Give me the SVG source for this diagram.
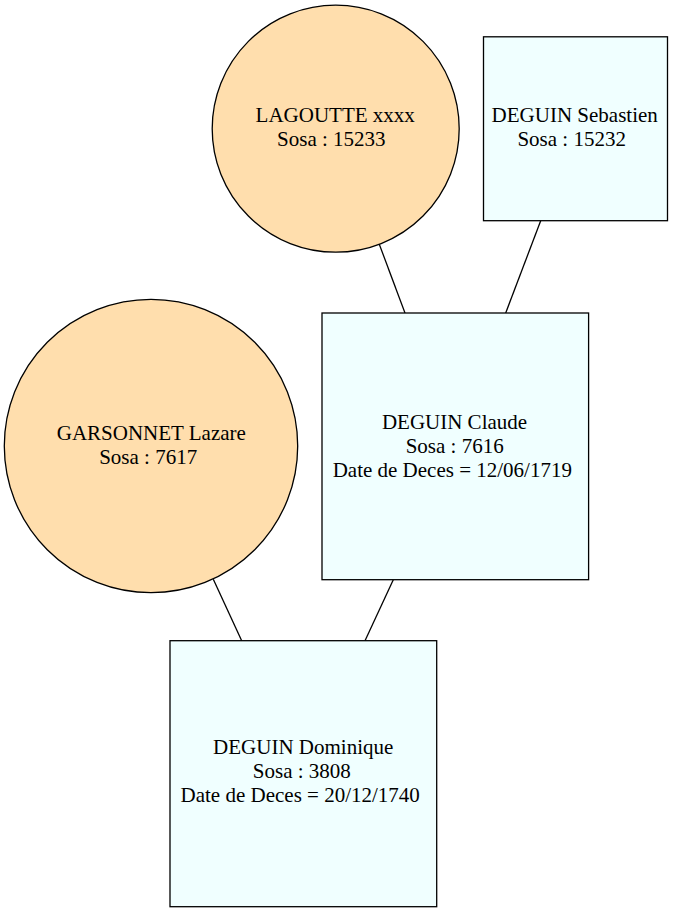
<svg xmlns="http://www.w3.org/2000/svg" width="673" height="913" viewBox="0 0 673 913">
<style>
.f{fill:#ffdead;stroke:#000;stroke-width:1.3}
.m{fill:#f0ffff;stroke:#000;stroke-width:1.3}
.e{stroke:#000;stroke-width:1.3;fill:none}
text{font-family:"Liberation Serif","Times New Roman",serif;font-size:21px;text-anchor:middle;fill:#000}
</style>
<rect width="673" height="913" fill="#fff"/>
<g id="edges">
<line class="e" x1="379.3" y1="244.3" x2="405" y2="313"/>
<line class="e" x1="540.7" y1="220.7" x2="505.7" y2="313"/>
<line class="e" x1="213.3" y1="579.3" x2="241.7" y2="640.7"/>
<line class="e" x1="393.3" y1="579.7" x2="365" y2="640.7"/>
</g>
<g id="n15233">
<circle class="f" cx="335.7" cy="128.7" r="123.5"/>
<text x="335.2" y="121.7">LAGOUTTE xxxx</text>
<text x="331.3" y="145.7">Sosa : 15233</text>
</g>
<g id="n15232">
<rect class="m" x="483.5" y="36.8" width="184" height="183.9"/>
<text x="574.7" y="121.7">DEGUIN Sebastien</text>
<text x="571.7" y="145.7">Sosa : 15232</text>
</g>
<g id="n7616">
<rect class="m" x="322" y="313" width="266.6" height="266.7"/>
<text x="454.5" y="429.3">DEGUIN Claude</text>
<text x="454.7" y="453.3">Sosa : 7616</text>
<text x="452.3" y="477.3">Date de Deces = 12/06/1719</text>
</g>
<g id="n7617">
<circle class="f" cx="151" cy="446" r="146.7"/>
<text x="151.3" y="440">GARSONNET Lazare</text>
<text x="148.2" y="464">Sosa : 7617</text>
</g>
<g id="n3808">
<rect class="m" x="170" y="640.7" width="266.7" height="266"/>
<text x="303.2" y="754">DEGUIN Dominique</text>
<text x="301.8" y="778">Sosa : 3808</text>
<text x="300.2" y="802">Date de Deces = 20/12/1740</text>
</g>
</svg>
